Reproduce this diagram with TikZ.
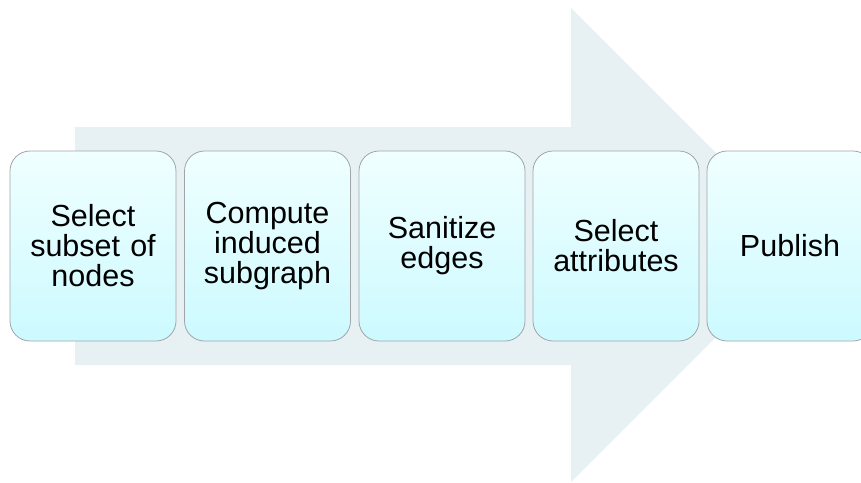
\documentclass[tikz,border=0pt]{standalone}
\usepackage{fontspec}
\setmainfont{Liberation Sans}
\begin{document}
\begin{tikzpicture}[x=1pt,y=-1pt,
  stepbox/.style={draw=boxline, line width=0.8pt, rounded corners=20pt,
    top color=boxtop, bottom color=boxbot, minimum width=166pt, minimum height=190pt,
    align=center, font=\fontsize{30.5}{30}\selectfont, inner sep=0pt, text width=160pt}]
\definecolor{arrowfill}{RGB}{231,241,244}
\definecolor{boxtop}{RGB}{240,255,255}
\definecolor{boxbot}{RGB}{204,250,255}
\definecolor{boxline}{RGB}{160,165,168}
\useasboundingbox (0,0) rectangle (861,482);
\clip (0,0) rectangle (861,482);
\fill[arrowfill] (75,127) -- (571,127) -- (571,8) -- (808,245) -- (571,482) -- (571,365) -- (75,365) -- cycle;
\node[stepbox] (s1) at (93,246) {Select\\subset of\\nodes};
\node[stepbox] (s2) at (267.5,246) {Compute\\induced\\subgraph};
\node[stepbox] (s3) at (442,246) {Sanitize\\edges};
\node[stepbox] (s4) at (616,246) {Select\\attributes};
\node[stepbox] (s5) at (790,246) {Publish};
\end{tikzpicture}
\end{document}
